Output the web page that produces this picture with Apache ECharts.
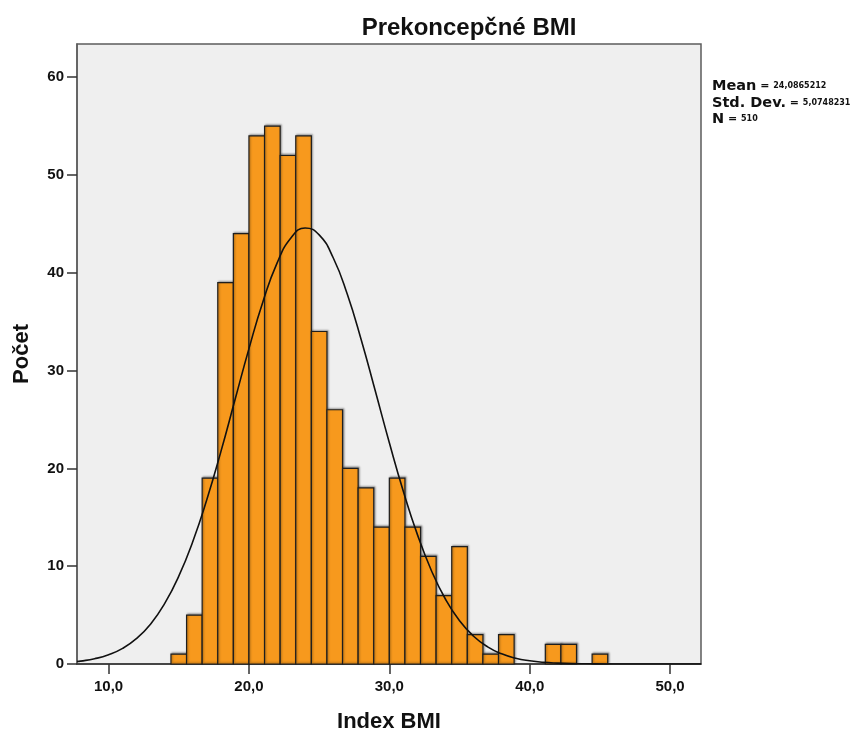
<!DOCTYPE html>
<html lang="sk">
<head>
    <meta charset="UTF-8">
    <title>Prekoncepčné BMI</title>
    <script src="https://cdn.jsdelivr.net/npm/echarts@6/dist/echarts.min.js"></script>
    <style>
        *{
            margin: 0;
            padding: 0;
        }
        html, body{
            width: 100%;
            height: 100%;
            overflow: hidden;
            background: #fff;
        }
        .container{
            width: 854px;
            height: 729px;
        }
    </style>
</head>
<body>
<div class="container"></div>
<script>
    // histogram bins: first edge and width, counts per bin
    const binStart = 14.4444;
    const binWidth = 1.1111;
    const counts = [1, 5, 19, 39, 44, 54, 55, 52, 54, 34, 26, 20, 18, 14,
        19, 14, 11, 7, 12, 3, 1, 3, 0, 0, 2, 2, 0, 1];

    // normal curve
    const curveX = [7.75, 8, 9, 10, 11, 12, 13, 14, 15, 16, 17, 18, 19, 20, 21, 22, 23, 24,
        25, 26, 27, 28, 29, 30, 31, 32, 33, 34, 35, 36, 37, 38, 39, 40, 41, 42, 43, 44, 46, 52.2];
    const curveY = [0.25, 0.29, 0.54, 0.95, 1.6, 2.62, 4.1, 6.19, 8.98, 12.53, 16.82, 21.72, 26.99,
        32.25, 37.07, 40.99, 43.59, 44.59, 43.88, 41.54, 37.83, 33.13, 27.91, 22.62, 17.64, 13.23,
        9.54, 6.62, 4.42, 2.84, 1.75, 1.04, 0.59, 0.33, 0.17, 0.09, 0.04, 0.02, 0, 0];

    const xTicks = [10, 20, 30, 40, 50];
    const yTicks = [0, 10, 20, 30, 40, 50, 60];

    const stats = {mean: '24,0865212', sd: '5,0748231', n: '510'};

    let bins = counts.map((c, i) => [binStart + i * binWidth, binStart + (i + 1) * binWidth, c]);
    let curve = curveX.map((x, i) => [x, curveY[i]]);

    let chart = echarts.init(document.querySelector('.container'));

    let tickFont = {
        fontFamily: '"Liberation Sans", Arial, sans-serif',
        fontWeight: 'bold',
        fontSize: 15,
        color: '#111'
    };

    let options = {
        backgroundColor: '#fff',
        animation: false,
        title: {
            text: 'Prekoncepčné BMI',
            left: 464,
            top: 11,
            textAlign: 'center',
            textStyle: {
                fontFamily: '"Liberation Sans", Arial, sans-serif',
                fontWeight: 'bold',
                fontSize: 24,
                color: '#111'
            }
        },
        grid: {
            left: 77,
            right: 153,
            top: 44,
            bottom: 65,
            outerBoundsMode: 'none',
            containLabel: false,
            show: true,
            backgroundColor: '#efefef',
            borderColor: '#5c5c5c',
            borderWidth: 1.5
        },
        xAxis: {
            type: 'value',
            min: 7.75,
            max: 52.2,
            name: 'Index BMI',
            nameLocation: 'middle',
            nameGap: 47,
            nameTextStyle: {
                fontFamily: '"Liberation Sans", Arial, sans-serif',
                fontWeight: 'bold',
                fontSize: 22,
                color: '#111'
            },
            axisLine: {show: true, lineStyle: {color: '#333', width: 1.5}},
            axisTick: {show: true, length: 10, customValues: xTicks, lineStyle: {color: '#333', width: 1.5}},
            axisLabel: Object.assign({
                customValues: xTicks,
                margin: 15,
                formatter: v => v.toFixed(1).replace('.', ',')
            }, tickFont),
            splitLine: {show: false}
        },
        yAxis: {
            type: 'value',
            min: 0,
            max: 63.4,
            name: 'Počet',
            nameLocation: 'middle',
            nameRotate: 90,
            nameGap: 44,
            nameTextStyle: {
                fontFamily: '"Liberation Sans", Arial, sans-serif',
                fontWeight: 'bold',
                fontSize: 22,
                color: '#111'
            },
            axisLine: {show: true, lineStyle: {color: '#5c5c5c', width: 1.5}},
            axisTick: {show: true, length: 10, customValues: yTicks, lineStyle: {color: '#333', width: 1.5}},
            axisLabel: Object.assign({
                customValues: yTicks,
                margin: 13
            }, tickFont),
            splitLine: {show: false}
        },
        graphic: [{
            type: 'text',
            left: 712,
            top: 78,
            style: {
                text: '{b|Mean}{e| = }{v|' + stats.mean + '}\n' +
                    '{b|Std. Dev.}{e| = }{v|' + stats.sd + '}\n' +
                    '{b|N}{e| = }{v|' + stats.n + '}',
                fill: '#111',
                lineHeight: 16.5,
                rich: {
                    b: {fontFamily: '"DejaVu Sans", sans-serif', fontWeight: 'bold', fontSize: 14.5, lineHeight: 16.5},
                    e: {fontFamily: '"DejaVu Sans", sans-serif', fontWeight: 'bold', fontSize: 11, lineHeight: 16.5},
                    v: {fontFamily: '"DejaVu Sans", sans-serif', fontWeight: 'bold', fontSize: 8, lineHeight: 16.5}
                }
            }
        }],
        series: [{
            type: 'custom',
            data: bins,
            encode: {x: [0, 1], y: 2},
            z: 2,
            renderItem: function (params, api) {
                let h = api.value(2);
                if (!h) return null;
                let p0 = api.coord([api.value(0), h]);
                let p1 = api.coord([api.value(1), 0]);
                return {
                    type: 'rect',
                    shape: {x: p0[0], y: p0[1], width: p1[0] - p0[0], height: p1[1] - p0[1]},
                    style: {
                        fill: '#f7991d',
                        stroke: '#1e1e1e',
                        lineWidth: 1.2,
                        shadowBlur: 2,
                        shadowOffsetX: 1,
                        shadowOffsetY: -1,
                        shadowColor: 'rgba(0,0,0,0.35)'
                    }
                };
            }
        }, {
            type: 'line',
            data: curve,
            smooth: true,
            showSymbol: false,
            z: 3,
            lineStyle: {color: '#111', width: 1.6}
        }]
    };

    chart.setOption(options);
</script>
</body>
</html>
